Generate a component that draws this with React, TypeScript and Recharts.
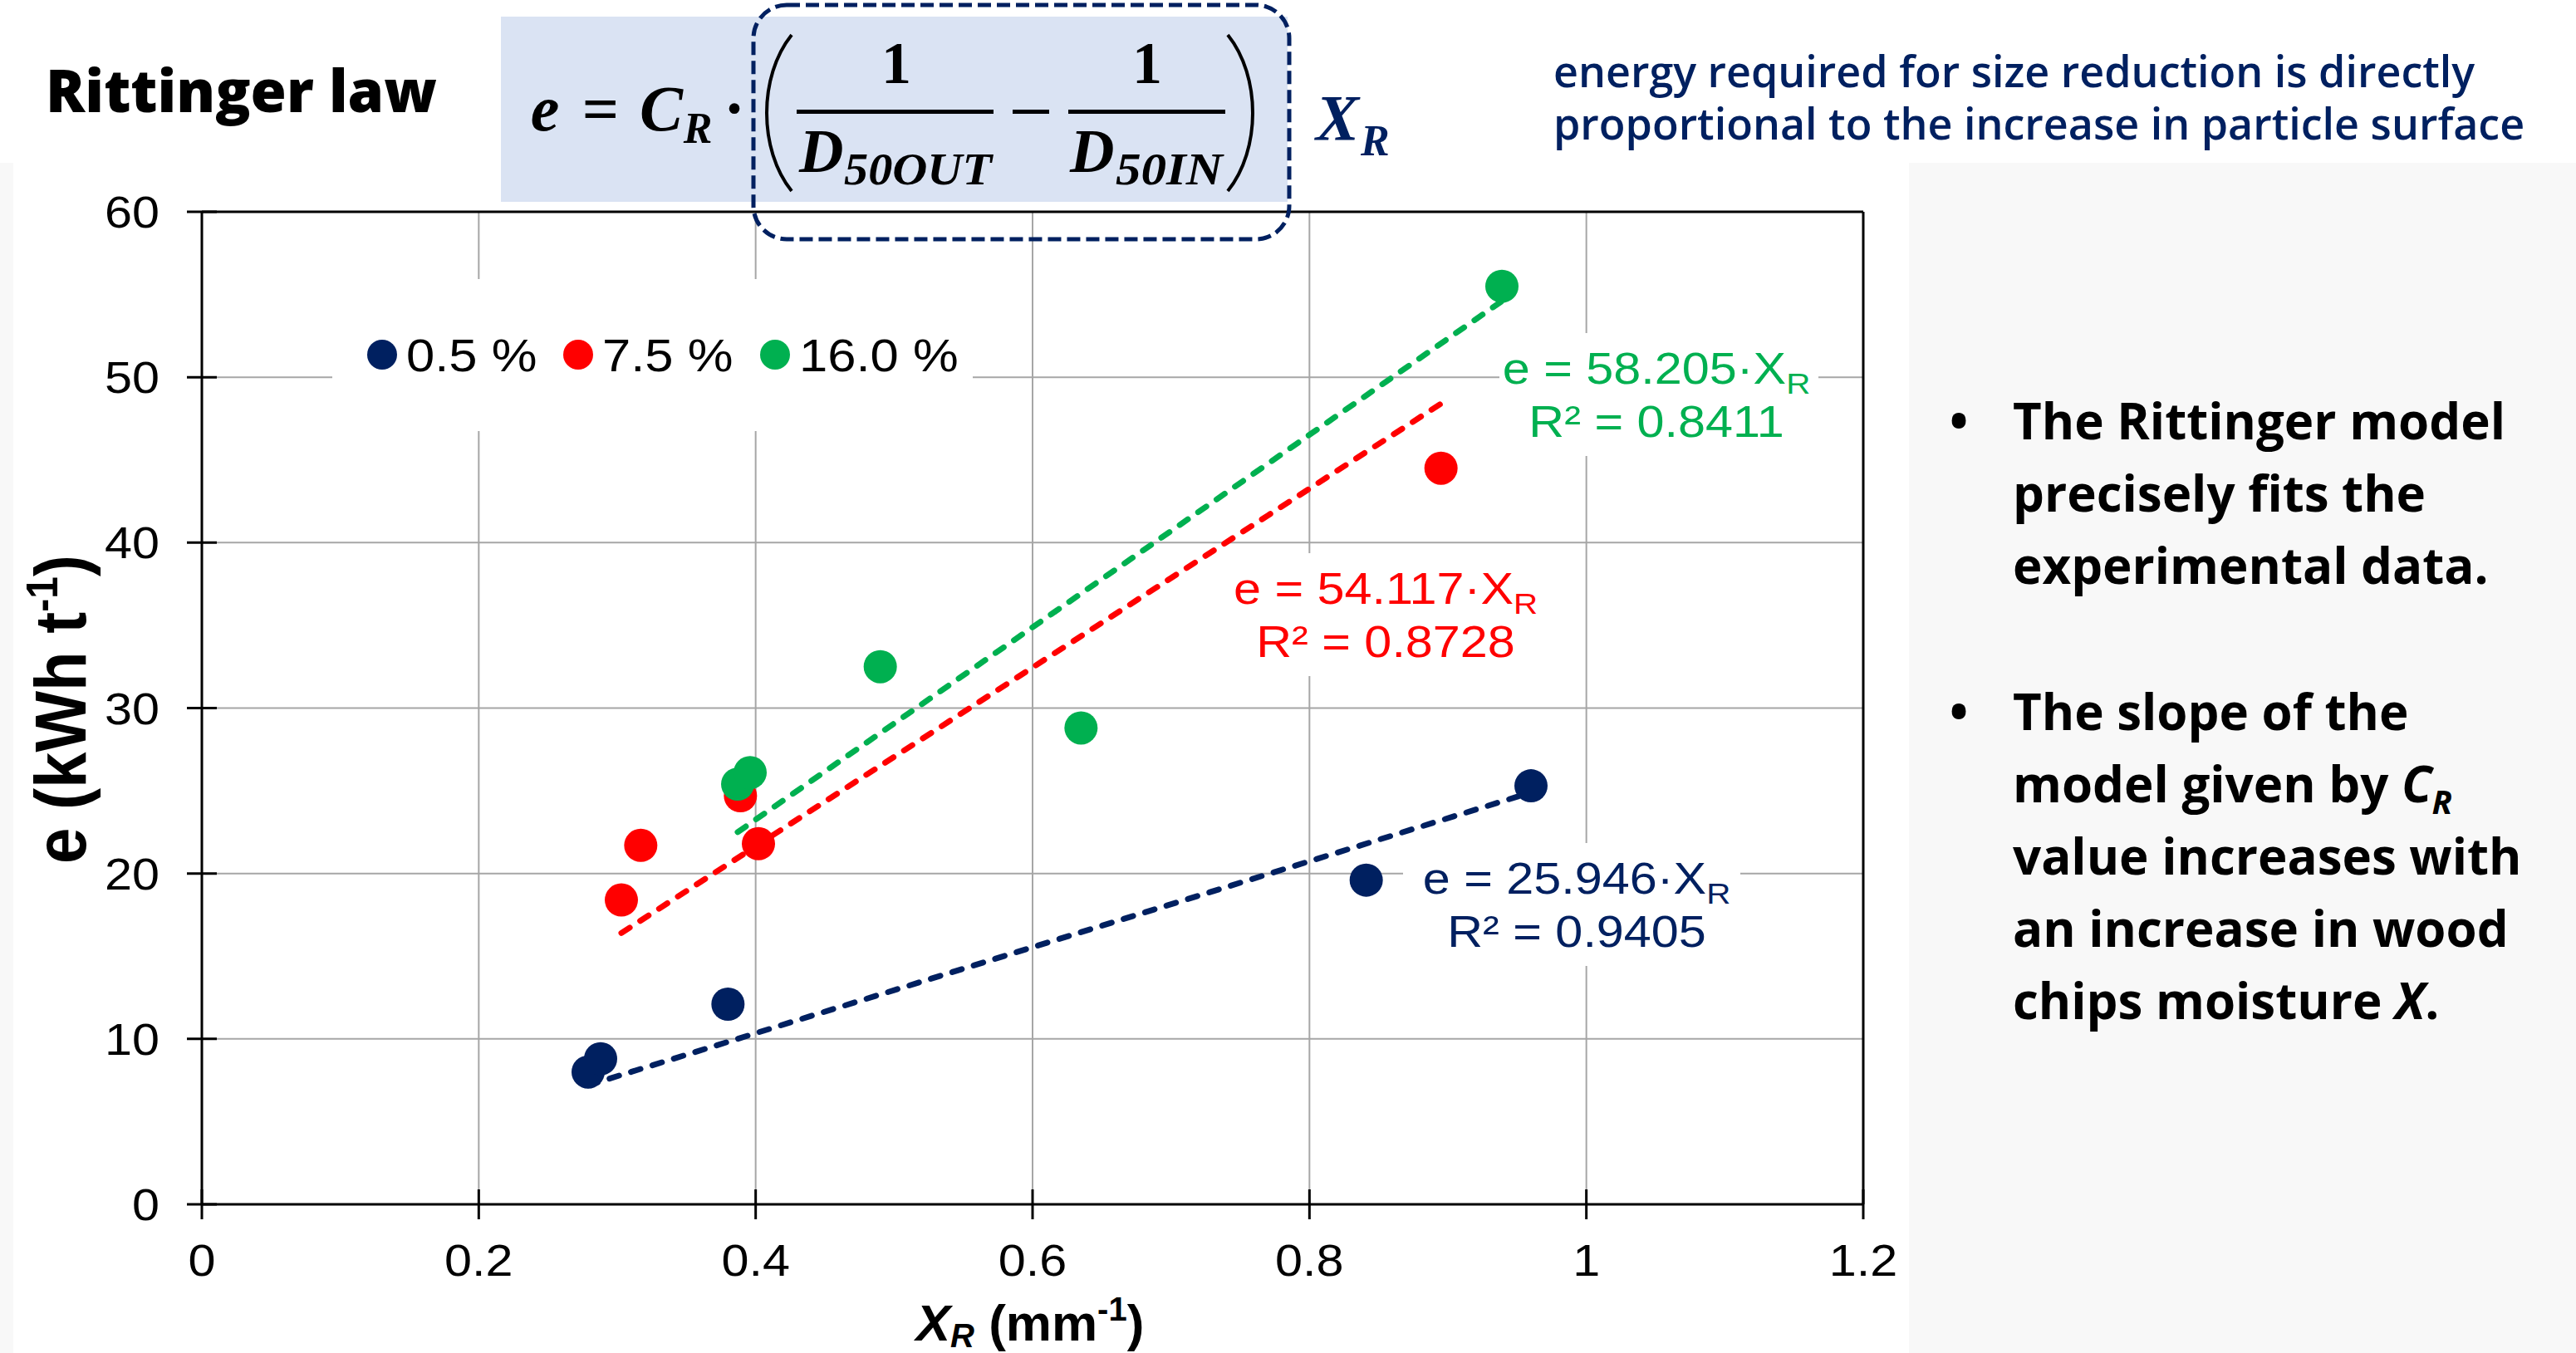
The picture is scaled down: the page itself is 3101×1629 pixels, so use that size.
import React from "react";
import {
  ScatterChart, Scatter, XAxis, YAxis, CartesianGrid, ReferenceLine, Legend,
} from "recharts";

// moisture classes
const moisture = ["0.5 %", "7.5 %", "16.0 %"];
const colors = ["#002060", "#FF0000", "#00B050"];

// X_R (mm-1) and e (kWh t-1)
const xr05 = [0.279, 0.288, 0.380, 0.841, 0.960];
const e05 = [8.0, 8.8, 12.1, 19.6, 25.3];
const xr75 = [0.303, 0.317, 0.389, 0.402, 0.895];
const e75 = [18.4, 21.7, 24.7, 21.8, 44.5];
const xr160 = [0.387, 0.396, 0.490, 0.635, 0.939];
const e160 = [25.4, 26.1, 32.5, 28.8, 55.5];

// dashed fit lines, end points as drawn
const fitX05 = [0.279, 0.960];
const fitE05 = [7.2, 24.9];
const fitX75 = [0.303, 0.895];
const fitE75 = [16.4, 48.4];
const fitX160 = [0.387, 0.939];
const fitE160 = [22.5, 54.6];

const fitEquations = ["e = 25.946·X", "e = 54.117·X", "e = 58.205·X"];
const fitR2 = ["R² = 0.9405", "R² = 0.8728", "R² = 0.8411"];

const xTicks = [0, 0.2, 0.4, 0.6, 0.8, 1, 1.2];
const yTicks = [0, 10, 20, 30, 40, 50, 60];

const definition = ["energy required for size reduction is directly", "proportional to the increase in particle surface"];
const bullet1 = ["The Rittinger model", "precisely fits the", "experimental data."];
const bullet2 = ["The slope of the", "model given by ", "value increases with", "an increase in wood", "chips moisture "];

const toPoints = (xs: number[], ys: number[]) => xs.map((x, i) => ({ x, y: ys[i] }));

const series = [
  { name: moisture[0], color: colors[0], data: toPoints(xr05, e05) },
  { name: moisture[1], color: colors[1], data: toPoints(xr75, e75) },
  { name: moisture[2], color: colors[2], data: toPoints(xr160, e160) },
];
const fits = [
  { color: colors[0], seg: toPoints(fitX05, fitE05) },
  { color: colors[1], seg: toPoints(fitX75, fitE75) },
  { color: colors[2], seg: toPoints(fitX160, fitE160) },
];

const SX = 1.12; // chart text on the slide is a bit wider than plain Arial
const sans = "'Liberation Sans', Arial, sans-serif";
const ui = "'Open Sans', sans-serif";
const serif = "'Liberation Serif', 'DejaVu Serif', serif";
const navy = "#002060";

function WideText({ x, y, size, anchor = "middle", fill = "#000", weight = 400, children }: any) {
  return (
    <g transform={`translate(${x},${y}) scale(${SX},1)`}>
      <text x={0} y={0} textAnchor={anchor} fontFamily={sans} fontSize={size} fontWeight={weight} fill={fill}>
        {children}
      </text>
    </g>
  );
}

function XTick(props: any) {
  const { x, y, payload } = props;
  return (
    <g>
      <line x1={x} x2={x} y1={y - 18} y2={y + 18} stroke="#000" strokeWidth={3} />
      <WideText x={x} y={y + 86} size={53}>{payload.value}</WideText>
    </g>
  );
}

function YTick(props: any) {
  const { x, y, payload } = props;
  return (
    <g>
      <line x1={x - 18} x2={x + 18} y1={y} y2={y} stroke="#000" strokeWidth={3} />
      <WideText x={x - 51} y={y + 19} size={53} anchor="end">{payload.value}</WideText>
    </g>
  );
}

function LegendBox(props: any) {
  const items = [...(props.payload || [])].sort(
    (a: any, b: any) => moisture.indexOf(a.value) - moisture.indexOf(b.value)
  );
  const itemX = [60, 296, 533];
  return (
    <svg width={771} height={183} style={{ display: "block" }}>
      {items.map((p: any, i: number) => {
        const c = colors[moisture.indexOf(p.value)] || p.color;
        return (
          <g key={p.value}>
            <circle cx={itemX[i]} cy={91} r={18} fill={c} />
            <WideText x={itemX[i] + 29} y={111} size={55} anchor="start">{p.value}</WideText>
          </g>
        );
      })}
    </svg>
  );
}

const dot = (color: string) => (props: any) => (
  <circle cx={props.cx} cy={props.cy} r={20} fill={color} />
);

// white boxes with the fit equations
const fitLabels = [
  { cx: 1898, c1: 1057, color: colors[0], left: 1689, right: 2095 },
  { cx: 1668, c1: 708, color: colors[1], left: 1478, right: 1858 },
  { cx: 1994, c1: 443, color: colors[2], left: 1805, right: 2189 },
];

function FitLabel({ i }: { i: number }) {
  const l = fitLabels[i];
  return (
    <g>
      <rect x={l.left} y={l.c1 - 42} width={l.right - l.left} height={148} fill="#fff" />
      <g transform={`translate(${l.cx},${l.c1 + 19}) scale(${SX},1)`}>
        <text x={0} y={0} textAnchor="middle" fontFamily={sans} fontSize={53} fill={l.color}>
          {fitEquations[i]}
          <tspan fontSize={36} dy={12}>R</tspan>
        </text>
      </g>
      <WideText x={l.cx} y={l.c1 + 83} size={53} fill={l.color}>{fitR2[i]}</WideText>
    </g>
  );
}

function Overlay() {
  return (
    <svg width={3101} height={1629} style={{ position: "absolute", left: 0, top: 0, pointerEvents: "none" }}>
      {/* title */}
      <text x={55} y={135} fontFamily={ui} fontWeight={800} fontSize={70} fill="#000">Rittinger law</text>

      {/* formula */}
      <rect x={603} y={20} width={947} height={223} fill="#DAE3F3" />
      <text x={656} y={157} textAnchor="middle" fontFamily={serif} fontStyle="italic" fontWeight={700} fontSize={78}>e</text>
      <text x={723} y={157} textAnchor="middle" fontFamily={serif} fontWeight={700} fontSize={78}>=</text>
      <text x={796} y={157} textAnchor="middle" fontFamily={serif} fontStyle="italic" fontWeight={700} fontSize={78}>C</text>
      <text x={840} y={172} textAnchor="middle" fontFamily={serif} fontStyle="italic" fontWeight={700} fontSize={52}>R</text>
      <text x={884} y={157} textAnchor="middle" fontFamily={serif} fontWeight={700} fontSize={78}>·</text>
      <path d="M 953 42 C 913 92, 913 180, 953 230" stroke="#000" strokeWidth={4} fill="none" />
      <path d="M 1478 42 C 1518 92, 1518 180, 1478 230" stroke="#000" strokeWidth={4} fill="none" />
      <text x={1079} y={100} textAnchor="middle" fontFamily={serif} fontWeight={700} fontSize={72}>1</text>
      <text x={1381} y={100} textAnchor="middle" fontFamily={serif} fontWeight={700} fontSize={72}>1</text>
      <rect x={959} y={132} width={237} height={5} fill="#000" />
      <rect x={1286} y={132} width={189} height={5} fill="#000" />
      <rect x={1219} y={132} width={44} height={5} fill="#000" />
      <text x={962} y={207} fontFamily={serif} fontStyle="italic" fontWeight={700} fontSize={74}>D</text>
      <text x={1016} y={222} fontFamily={serif} fontStyle="italic" fontWeight={700} fontSize={54} textLength={178} lengthAdjust="spacingAndGlyphs">50OUT</text>
      <text x={1288} y={207} fontFamily={serif} fontStyle="italic" fontWeight={700} fontSize={74}>D</text>
      <text x={1343} y={222} fontFamily={serif} fontStyle="italic" fontWeight={700} fontSize={54} textLength={129} lengthAdjust="spacingAndGlyphs">50IN</text>
      <rect x={907} y={6} width={645} height={282} rx={40} fill="none" stroke={navy} strokeWidth={5} strokeDasharray="16 7" />
      <text x={1584} y={168} fontFamily={serif} fontStyle="italic" fontWeight={700} fontSize={78} fill={navy}>X</text>
      <text x={1638} y={187} fontFamily={serif} fontStyle="italic" fontWeight={700} fontSize={52} fill={navy}>R</text>

      {/* definition, one two-line block */}
      <text x={1870} y={105} fontFamily={ui} fontWeight={600} fontSize={52} fill={navy}>
        <tspan x={1870} y={105}>{definition[0]}</tspan>
        <tspan x={1870} y={168}>{definition[1]}</tspan>
      </text>

      {/* fit equations */}
      <FitLabel i={0} />
      <FitLabel i={1} />
      <FitLabel i={2} />

      {/* axis titles */}
      <g transform={`translate(103,854) scale(${SX},1) rotate(-90)`}>
        <text x={0} y={0} textAnchor="middle" fontFamily={sans} fontWeight={700} fontSize={78} fill="#000">
          e (kWh t<tspan fontSize={48} dy={-30}>-1</tspan><tspan dy={30}>)</tspan>
        </text>
      </g>
      <text x={1240} y={1614} textAnchor="middle" fontFamily={sans} fontWeight={700} fontSize={62} fill="#000">
        <tspan fontStyle="italic">X</tspan>
        <tspan fontStyle="italic" fontSize={40} dy={8}>R</tspan>
        <tspan dy={-8}> (mm</tspan>
        <tspan fontSize={40} dy={-24}>-1</tspan>
        <tspan dy={24}>)</tspan>
      </text>

      {/* bullets */}
      <g fontFamily={ui} fontWeight={700} fontSize={60} fill="#000">
        <text x={2358} y={529} textAnchor="middle">•</text>
        {bullet1.map((t, i) => (
          <text key={t} x={2423} y={529 + i * 87}>{t}</text>
        ))}
        <text x={2358} y={879} textAnchor="middle">•</text>
        {bullet2.map((t, i) => (
          <text key={t} x={2423} y={879 + i * 87}>
            {t}
            {i === 1 && (
              <>
                <tspan fontStyle="italic">C</tspan>
                <tspan fontStyle="italic" fontSize={40} dy={14}>R</tspan>
              </>
            )}
            {i === 4 && (
              <>
                <tspan fontStyle="italic">X</tspan>
                <tspan>.</tspan>
              </>
            )}
          </text>
        ))}
      </g>
    </svg>
  );
}

export default function App() {
  return (
    <div style={{ position: "absolute", left: 0, top: 0, width: 3101, height: 1629, background: "#F8F8F8", overflow: "hidden" }}>
      <div style={{ position: "absolute", left: 0, top: 0, width: 3101, height: 196, background: "#fff" }} />
      <div style={{ position: "absolute", left: 16, top: 0, width: 2282, height: 1629, background: "#fff" }} />
      <div style={{ position: "absolute", left: 0, top: 0 }}>
        <ScatterChart width={2298} height={1629} margin={{ top: 255, right: 55, bottom: 79, left: 143 }}>
          <CartesianGrid stroke="#A6A6A6" strokeWidth={2} />
          <XAxis
            type="number" dataKey="x" domain={[0, 1.2]} ticks={xTicks} interval={0}
            tick={<XTick />} tickLine={false} tickSize={0} tickMargin={0} height={100}
            axisLine={{ stroke: "#000", strokeWidth: 3 }}
          />
          <YAxis
            type="number" dataKey="y" domain={[0, 60]} ticks={yTicks} interval={0}
            tick={<YTick />} tickLine={false} tickSize={0} tickMargin={0} width={100}
            axisLine={{ stroke: "#000", strokeWidth: 3 }}
          />
          <ReferenceLine y={60} stroke="#000" strokeWidth={3} />
          <ReferenceLine x={1.2} stroke="#000" strokeWidth={3} />
          {fits.map((f) => (
            <ReferenceLine
              key={f.color} segment={f.seg} stroke={f.color} strokeWidth={7}
              strokeDasharray="12 15" strokeLinecap="round"
            />
          ))}
          {series.map((s) => (
            <Scatter
              key={s.name} name={s.name} data={s.data} fill={s.color}
              shape={dot(s.color)} isAnimationActive={false}
            />
          ))}
          <Legend
            layout="horizontal" verticalAlign="middle" align="center"
            wrapperStyle={{ left: 400, top: 336, width: 771, height: 183, background: "#fff" }}
            content={<LegendBox />}
          />
        </ScatterChart>
      </div>
      <Overlay />
    </div>
  );
}
